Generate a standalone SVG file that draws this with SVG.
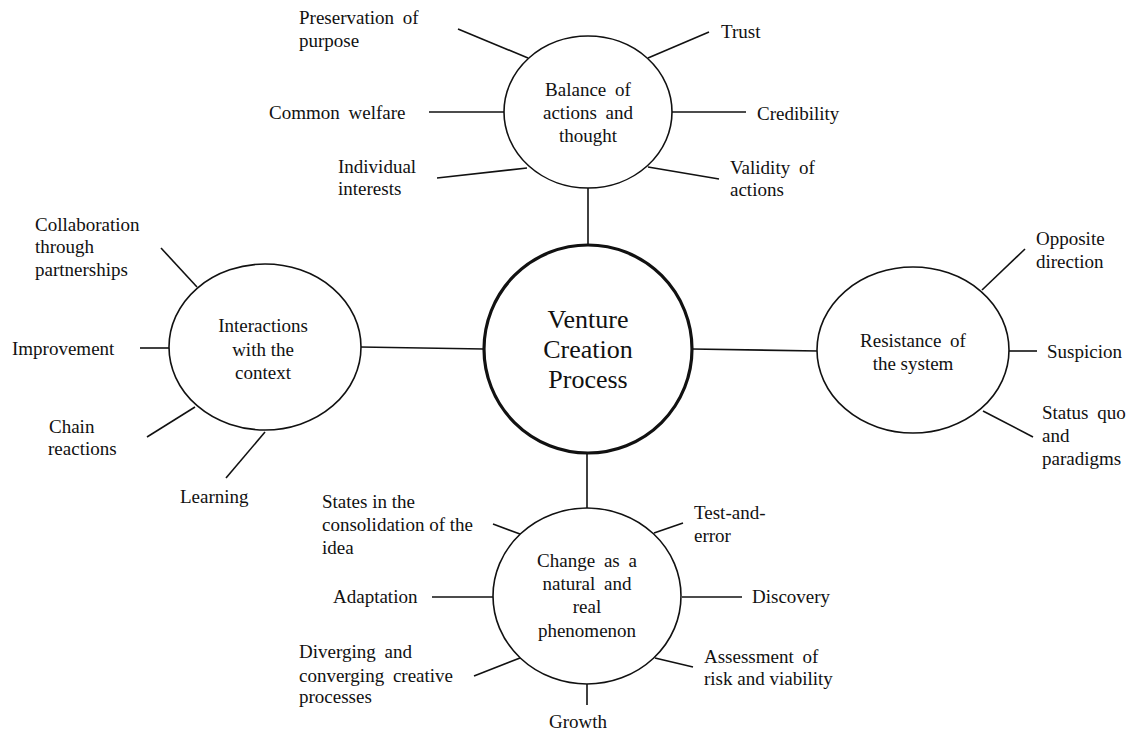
<svg xmlns="http://www.w3.org/2000/svg" width="1144" height="736" viewBox="0 0 1144 736">
<style>
text{font-family:"Liberation Serif","Times New Roman",serif;font-size:19px;fill:#111}
.c{text-anchor:middle}
.w{word-spacing:4px}
.big{font-size:26px}
.node{fill:#fff;stroke:#111;stroke-width:1.6}
.main{fill:#fff;stroke:#111;stroke-width:3.2}
#connectors line{stroke:#111;stroke-width:1.6}
</style>
<rect width="1144" height="736" fill="#fff"/>
<g id="connectors">
<line x1="588" y1="188" x2="588" y2="245"/>
<line x1="587" y1="453" x2="587" y2="508"/>
<line x1="360" y1="347" x2="484" y2="349"/>
<line x1="692" y1="349" x2="818" y2="351"/>
<line x1="458" y1="29" x2="528" y2="58"/>
<line x1="429" y1="112" x2="504" y2="112"/>
<line x1="437" y1="178" x2="527" y2="168"/>
<line x1="648" y1="58" x2="709" y2="32"/>
<line x1="672" y1="112" x2="746" y2="112"/>
<line x1="648" y1="167" x2="719" y2="179"/>
<line x1="197" y1="287" x2="161" y2="248"/>
<line x1="140" y1="348" x2="169" y2="348"/>
<line x1="195" y1="407" x2="147" y2="437"/>
<line x1="265" y1="432" x2="226" y2="478"/>
<line x1="982" y1="290" x2="1025" y2="249"/>
<line x1="1009" y1="351" x2="1037" y2="351"/>
<line x1="983" y1="411" x2="1033" y2="437"/>
<line x1="520" y1="534" x2="493" y2="524"/>
<line x1="432" y1="597" x2="493" y2="597"/>
<line x1="520" y1="658" x2="474" y2="676"/>
<line x1="654" y1="533" x2="683" y2="523"/>
<line x1="682" y1="597" x2="742" y2="597"/>
<line x1="655" y1="658" x2="693" y2="667"/>
<line x1="587" y1="684" x2="587" y2="705"/>
</g>
<g id="center">
<circle class="main" cx="588" cy="349" r="104"/>
<text class="c big" x="588" y="328">Venture</text>
<text class="c big" x="588" y="358">Creation</text>
<text class="c big" x="588" y="388">Process</text>
</g>
<g id="balance">
<ellipse class="node" cx="588" cy="112" rx="84" ry="76"/>
<text class="c w" x="588" y="96">Balance of</text>
<text class="c w" x="588" y="119">actions and</text>
<text class="c" x="588" y="142">thought</text>
</g>
<g id="interactions">
<ellipse class="node" cx="265" cy="347" rx="96" ry="83"/>
<text class="c" x="263" y="332">Interactions</text>
<text class="c" x="263" y="356">with the</text>
<text class="c" x="263" y="379">context</text>
</g>
<g id="resistance">
<ellipse class="node" cx="913" cy="350" rx="96" ry="83"/>
<text class="c w" x="913" y="347">Resistance of</text>
<text class="c" x="913" y="370">the system</text>
</g>
<g id="change">
<ellipse class="node" cx="587" cy="596" rx="94" ry="88"/>
<text class="c w" x="587" y="567">Change as a</text>
<text class="c w" x="587" y="590">natural and</text>
<text class="c" x="587" y="613">real</text>
<text class="c" x="587" y="637">phenomenon</text>
</g>
<g id="preservation"><text class="w" x="299" y="24">Preservation of</text><text x="299" y="47">purpose</text></g>
<g id="common-welfare"><text class="w" x="269" y="119">Common welfare</text></g>
<g id="individual"><text x="338" y="173">Individual</text><text x="338" y="195">interests</text></g>
<g id="trust"><text x="721" y="38">Trust</text></g>
<g id="credibility"><text x="757" y="120">Credibility</text></g>
<g id="validity"><text class="w" x="730" y="174">Validity of</text><text x="730" y="196">actions</text></g>
<g id="collaboration"><text x="35" y="231">Collaboration</text><text x="35" y="253">through</text><text x="35" y="276">partnerships</text></g>
<g id="improvement"><text x="12" y="355">Improvement</text></g>
<g id="chain"><text x="49" y="433">Chain</text><text x="48" y="455">reactions</text></g>
<g id="learning"><text x="180" y="503">Learning</text></g>
<g id="opposite"><text x="1036" y="245">Opposite</text><text x="1036" y="268">direction</text></g>
<g id="suspicion"><text x="1047" y="358">Suspicion</text></g>
<g id="status-quo"><text class="w" x="1042" y="419">Status quo</text><text x="1042" y="442">and</text><text x="1042" y="465">paradigms</text></g>
<g id="states"><text x="322" y="508">States in the</text><text x="322" y="531">consolidation of the</text><text x="322" y="554">idea</text></g>
<g id="adaptation"><text x="333" y="603">Adaptation</text></g>
<g id="diverging"><text class="w" x="299" y="658">Diverging and</text><text class="w" x="299" y="682">converging creative</text><text x="299" y="703">processes</text></g>
<g id="test"><text x="694" y="519">Test-and-</text><text x="694" y="542">error</text></g>
<g id="discovery"><text x="752" y="603">Discovery</text></g>
<g id="assessment"><text class="w" x="704" y="663">Assessment of</text><text x="704" y="685">risk and viability</text></g>
<g id="growth"><text class="c" x="578" y="728">Growth</text></g>
</svg>
